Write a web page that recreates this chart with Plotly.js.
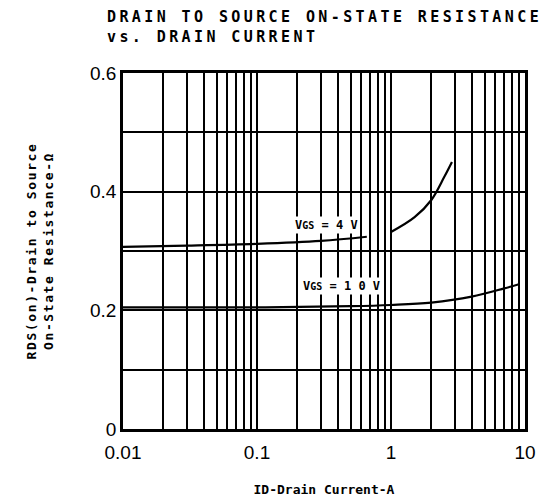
<!DOCTYPE html>
<html><head><meta charset="utf-8">
<script src="https://cdn.plot.ly/plotly-3.0.1.min.js"></script>
<style>
body{margin:0;background:#fff}
#chart .gtitle{letter-spacing:3.4px}
#chart .ytitle{letter-spacing:1.6px}
</style></head>
<body><div id="chart" style="width:551px;height:502px"></div>
<script>
const id4 = [0.01, 0.03, 0.1, 0.3, 0.66, null, 1.0, 1.5, 2.0, 2.5, 2.85];
const rds4 = [0.307, 0.309, 0.312, 0.317, 0.324, null, 0.332, 0.357, 0.386, 0.425, 0.45];
const id10 = [0.01, 0.1, 0.5, 1.0, 2.0, 4.0, 7.0, 9.0];
const rds10 = [0.205, 0.205, 0.207, 0.209, 0.213, 0.223, 0.237, 0.244];
const xTickVals = [0.01, 0.1, 1, 10];
const xTickText = ['0.01', '0.1', '1', '10'];
const yTickVals = [0, 0.2, 0.4, 0.6];
const yTickText = ['0', '0.2', '0.4', '0.6'];
const labels = [
  {x: 0.33, y: 0.344, text: "V<span style='font-size:10px'>GS</span> = 4 V"},
  {x: 0.43, y: 0.241, text: "V<span style='font-size:10px'>GS</span> = 1 0 V"}
];

const traces = [
  {x: id4, y: rds4, mode: 'lines', line: {color: '#000', width: 2.2, shape: 'spline'}, connectgaps: false},
  {x: id10, y: rds10, mode: 'lines', line: {color: '#000', width: 2.2, shape: 'spline'}}
];
const layout = {
  width: 551, height: 502,
  margin: {l: 123, r: 26, t: 73, b: 73},
  paper_bgcolor: '#fff', plot_bgcolor: '#fff',
  showlegend: false,
  title: {text: 'DRAIN TO SOURCE ON-STATE RESISTANCE<br>vs. DRAIN CURRENT', x: 107/551, xref: 'container', xanchor: 'left',
    y: 1 - 22/502, yref: 'container', yanchor: 'top',
    font: {family: 'DejaVu Sans Mono', size: 15, color: '#000', weight: 'bold'}},
  xaxis: {type: 'log', range: [-2, 1], tickvals: xTickVals, ticktext: xTickText,
    showgrid: true, gridcolor: '#000', gridwidth: 2,
    minor: {dtick: 'D1', showgrid: true, gridcolor: '#000', gridwidth: 2},
    showline: true, mirror: true, linecolor: '#000', linewidth: 2.5, ticks: '',
    ticklabelstandoff: 4,
    tickfont: {family: 'Liberation Sans', size: 19, color: '#000'},
    title: {text: 'ID-Drain Current-A', standoff: 24, font: {family: 'DejaVu Sans Mono', size: 13, color: '#000', weight: 'bold'}},
    zeroline: false},
  yaxis: {range: [0, 0.6], tickvals: yTickVals, ticktext: yTickText,
    showgrid: true, gridcolor: '#000', gridwidth: 2,
    minor: {dtick: 0.1, showgrid: true, gridcolor: '#000', gridwidth: 2},
    showline: true, mirror: true, linecolor: '#000', linewidth: 2.5, ticks: '',
    tickfont: {family: 'Liberation Sans', size: 19, color: '#000'},
    title: {text: 'RDS(on)-Drain to Source<br>On-State Resistance-Ω', standoff: 34, font: {family: 'DejaVu Sans Mono', size: 13, color: '#000', weight: 'bold'}},
    zeroline: false},
  annotations: labels.map(a => ({x: Math.log10(a.x), y: a.y, xref: 'x', yref: 'y', text: a.text, showarrow: false,
    bgcolor: '#fff', borderpad: 1, font: {family: 'DejaVu Sans Mono', size: 12, color: '#000', weight: 'bold'}}))
};
Plotly.newPlot('chart', traces, layout, {displayModeBar: false});
</script></body></html>
